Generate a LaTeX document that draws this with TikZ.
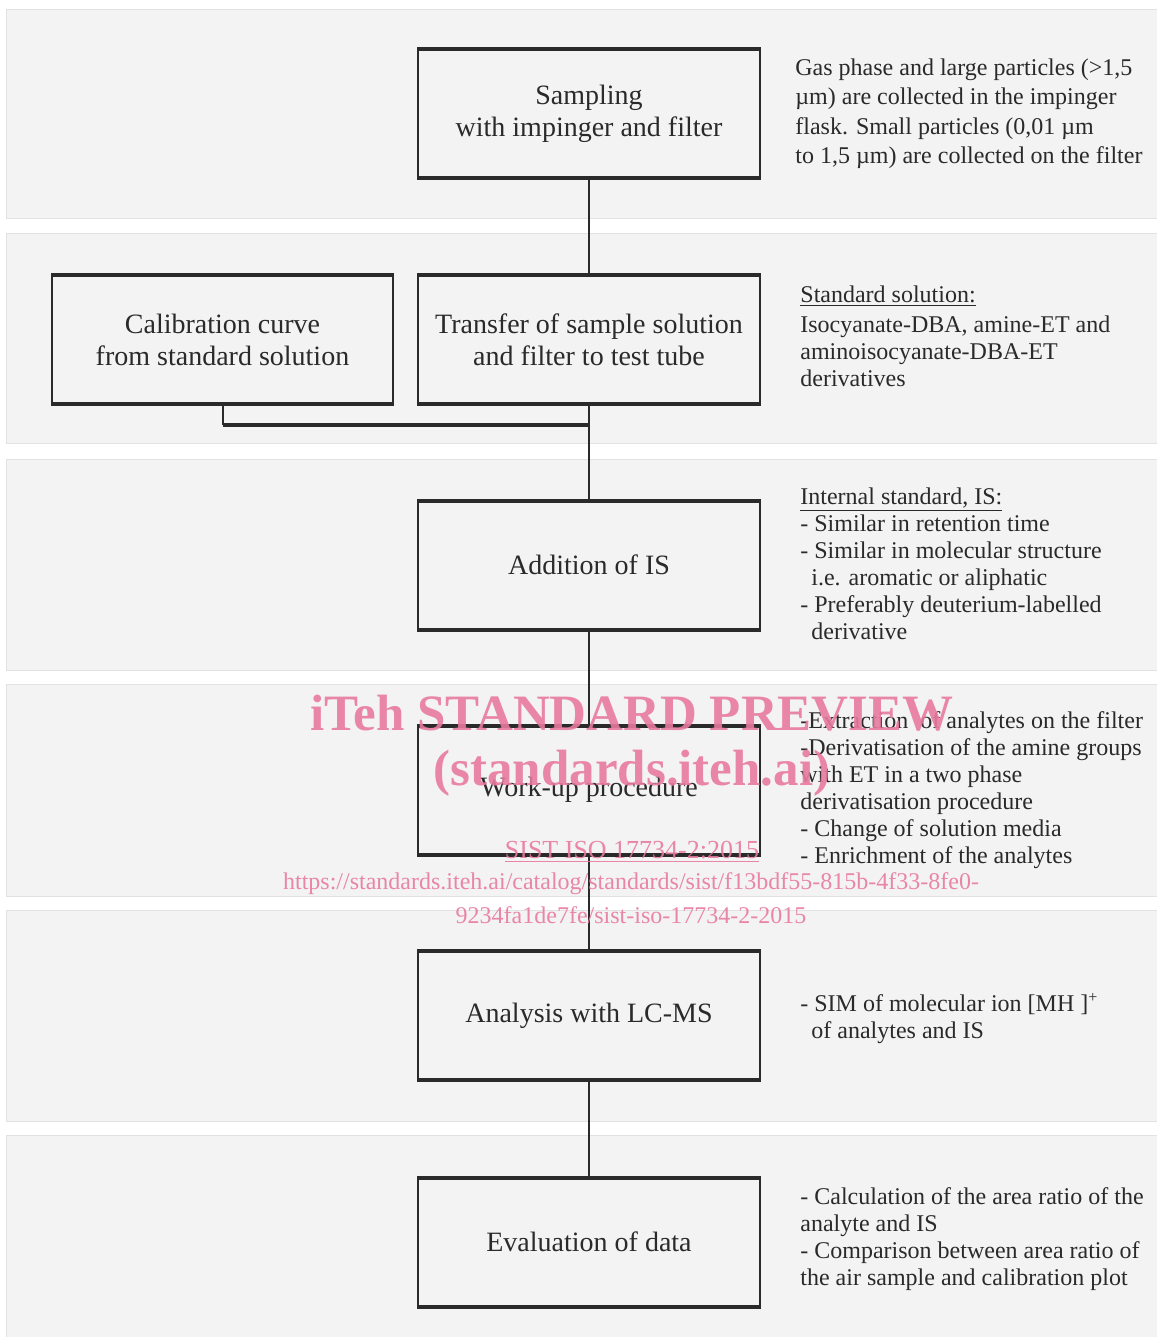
\documentclass[tikz,border=0pt]{standalone}
\usepackage{fontspec}
\setmainfont{Liberation Serif}
\usepackage{tikz}
\usetikzlibrary{calc}

\definecolor{band}{RGB}{243,243,243}
\definecolor{bandline}{RGB}{226,226,226}
\definecolor{ink}{RGB}{42,42,42}
\definecolor{wmpink}{RGB}{232,122,158}

\tikzset{
  stepbox/.style={draw=ink, line width=1pt, minimum width=171pt, minimum height=63.5pt,
    align=center, inner sep=0pt, text=ink, font=\fontsize{14}{16}\selectfont},
  note/.style={anchor=base west, align=left, inner sep=0pt, text=ink,
    font=\fontsize{12}{13.5}\selectfont},
  link/.style={draw=ink, line width=1pt},
  wmark/.style={text=wmpink, opacity=0.9, inner sep=0pt}
}

\begin{document}
\begin{tikzpicture}[x=0.5pt,y=-0.5pt]
\useasboundingbox (0,0) rectangle (1156,1337);
% grey bands
\foreach \top/\bot in {10/219,234/443,459/670,684/896,910/1121,1135/1337}
  \draw[bandline, fill=band, line width=0.5pt] (6,\top) rectangle (1160,\bot);

\node[stepbox] (samp) at (589,113.5) {Sampling\\with impinger and filter};
\node[stepbox, minimum width=170.5pt] (calib) at (222.5,339.5) {Calibration curve\\from standard solution};
\node[stepbox] (transfer) at (589,339.5) {Transfer of sample solution\\and filter to test tube};
\node[stepbox] (addis) at (589,565) {Addition of IS};
\node[stepbox] (workup) at (589,790) {Work-up procedure};
\node[stepbox] (lcms) at (589,1015.5) {Analysis with LC-MS};
\node[stepbox] (evalu) at (589,1242) {Evaluation of data};

% thick top and bottom edges
\foreach \b in {samp,calib,transfer,addis,workup,lcms,evalu}
  \draw[ink, line width=2pt] (\b.north west) -- (\b.north east) (\b.south west) -- (\b.south east);

\coordinate (join) at (589,425);
\draw[link] (samp) -- (transfer);
\draw[link] (transfer) -- (addis);
\draw[link] (addis) -- (workup);
\draw[link] (workup) -- (lcms);
\draw[link] (lcms) -- (evalu);
\draw[link] (calib.south) -- (calib.south |- join);
\draw[link, line width=2pt] (calib.south |- join) -- (join);

% notes on the right (anchored at the last line)
\node[note, font=\fontsize{12}{14.75}\selectfont] (samptext) at (795,164)
  {Gas phase and large particles (>1,5\\µm) are collected in the impinger\\flask. Small particles (0,01 µm\\to 1,5 µm) are collected on the filter};
\node[note] (stdtext) at (800,386)
  {\underline{Standard solution:}\\[1.5pt]Isocyanate-DBA, amine-ET and\\aminoisocyanate-DBA-ET\\derivatives};
\node[note] (istext) at (800,639)
  {\underline{Internal standard, IS:}\\- Similar in retention time\\- Similar in molecular structure\\\hspace*{5.5pt}i.e. aromatic or aliphatic\\- Preferably deuterium-labelled\\\hspace*{5.5pt}derivative};
\node[note] (worktext) at (800,863)
  {-Extraction \ of analytes on the filter\\-Derivatisation of the amine groups\\with ET in a two phase\\derivatisation procedure\\- Change of solution media\\- Enrichment of the analytes};
\node[note] (lcmstext) at (800,1038)
  {- SIM of molecular ion [MH ]\textsuperscript{+}\\\hspace*{5.5pt}of analytes and IS};
\node[note] (evaltext) at (800,1285)
  {- Calculation of the area ratio of the\\analyte and IS\\- Comparison between area ratio of\\the air sample and calibration plot};

% watermark
\node[wmark, font=\fontsize{25.5}{28}\bfseries] (wm1) at (632,713) {iTeh STANDARD PREVIEW};
\node[wmark, font=\fontsize{25.5}{28}\bfseries] (wm2) at (632,773) {(standards.iteh.ai)};
\node[wmark, font=\fontsize{13}{15}\selectfont] (wm3) at (632,852) {\underline{SIST ISO 17734-2:2015}};
\node[wmark, font=\fontsize{12}{14}\selectfont] (wm4) at (631,884) {https://standards.iteh.ai/catalog/standards/sist/f13bdf55-815b-4f33-8fe0-};
\node[wmark, font=\fontsize{12}{14}\selectfont] (wm5) at (631,915) {9234fa1de7fe/sist-iso-17734-2-2015};
\end{tikzpicture}
\end{document}
